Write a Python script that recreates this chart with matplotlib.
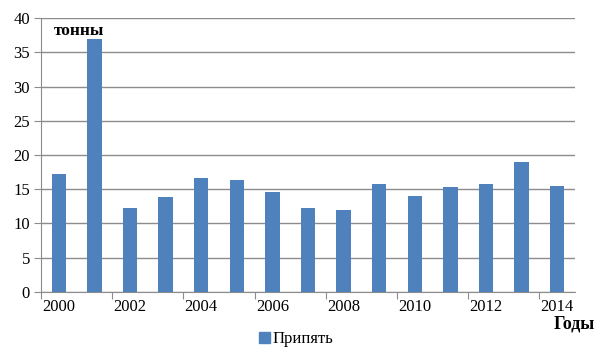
import numpy as np
import matplotlib.pyplot as plt
from matplotlib.patches import Patch

plt.rcParams['font.family'] = ['Liberation Serif', 'DejaVu Serif']

years = list(range(2000, 2015))
pripyat = [17.2, 37.0, 12.3, 13.8, 16.6, 16.3, 14.6, 12.3, 12.0, 15.7,
           14.0, 15.3, 15.7, 19.0, 15.4]
year_labels = ['2000', '2002', '2004', '2006', '2008', '2010', '2012', '2014']

bar_color = '#4f81bd'
grid_color = '#8c8c8c'

fig = plt.figure(figsize=(5.95, 3.49), dpi=100)
ax = fig.add_axes([41 / 595, 1 - 291.7 / 349, 534 / 595, 273.4 / 349])

x = np.arange(len(years))
ax.bar(x, pripyat, width=0.4, color=bar_color, zorder=3)

ax.set_xlim(-0.5, len(years) - 0.5)
ax.set_ylim(0, 40)
ax.set_yticks(np.arange(0, 41, 5))
ax.yaxis.grid(True, color=grid_color, linewidth=1.0, zorder=0)

# tick marks between category pairs, labels under even years
ax.set_xticks(np.arange(-0.5, len(years) - 0.5, 2))
ax.set_xticklabels([])
ax.set_xticks(x[::2], minor=True)
ax.set_xticklabels(year_labels, minor=True)
ax.tick_params(axis='x', which='major', length=5, color=grid_color)
ax.tick_params(axis='x', which='minor', length=0, pad=5, labelsize=12)
ax.tick_params(axis='y', length=5, color=grid_color, labelsize=12, pad=3)

for side in ('top', 'right'):
    ax.spines[side].set_visible(False)
for side in ('left', 'bottom'):
    ax.spines[side].set_color(grid_color)

fig.text(54 / 595, 1 - 31 / 349, 'тонны', fontsize=12.5, fontweight='bold',
         va='center', ha='left')
fig.text(595 / 595, 1 - 324 / 349, 'Годы', fontsize=13, fontweight='bold',
         va='center', ha='right')

fig.legend(handles=[Patch(color=bar_color, label='Припять')],
           loc='center', bbox_to_anchor=(296 / 595, 1 - 339 / 349),
           frameon=False, fontsize=12, handlelength=0.65, handleheight=0.65,
           handletextpad=0.15)

fig.savefig('out.png', dpi=100)
